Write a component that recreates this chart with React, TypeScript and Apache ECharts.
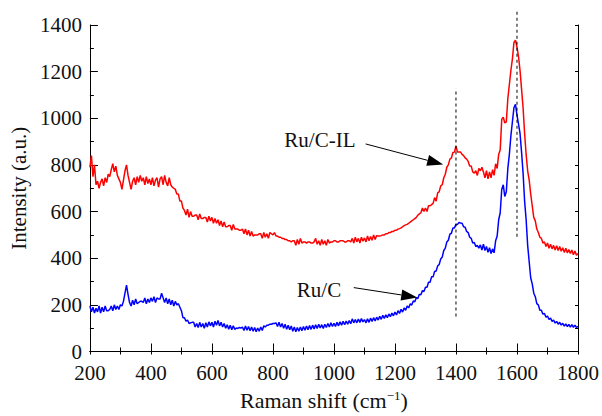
import React, { useEffect, useRef } from "react";
import * as echarts from "echarts";

// Raman shift grid: 200 .. 1800 cm-1, step 5
const SHIFT_START = 200;
const SHIFT_STEP = 5;

// Ru/C-IL intensity (a.u.)
const ruCIL = [
  790,840,750,800,715,730,700,725,740,710,745,725,760,750,780,805,770,795,755,740,
  725,695,735,775,800,755,725,695,730,745,715,750,725,755,730,745,715,750,720,740,
  715,745,710,735,745,705,740,750,715,755,725,710,745,715,705,700,695,675,675,645,
  645,615,605,585,610,575,600,580,580,585,585,565,590,570,570,575,575,555,580,560,
  575,550,570,550,565,540,560,535,555,535,535,540,540,520,545,525,525,525,520,520,
  525,505,525,500,520,495,515,495,500,500,500,505,505,485,510,490,505,485,510,505,
  500,510,495,495,490,490,485,485,480,480,475,475,470,475,475,455,480,460,485,465,
  470,470,465,470,470,465,465,470,485,460,475,455,480,460,475,455,480,465,470,470,
  475,475,470,470,475,475,475,470,470,475,475,470,485,465,490,470,485,465,490,473,
  487,470,495,475,493,477,500,480,497,495,495,497,500,500,505,505,510,510,515,515,
  520,520,525,527,530,535,540,543,545,550,555,560,565,570,575,585,590,595,615,600,
  615,600,625,625,630,635,660,645,680,685,710,715,745,760,790,800,825,830,853,855,
  880,855,855,855,845,840,830,825,815,795,795,770,765,775,755,785,775,790,770,745,
  775,740,770,745,780,755,805,785,845,865,995,1005,980,985,1085,1145,1205,1255,1325,1335,
  1305,1265,1205,1125,1045,935,845,775,735,675,625,575,560,525,510,490,485,465,470,450,
  465,443,460,440,455,435,453,433,450,430,445,425,443,423,437,420,435,415,431,413,420,
];

// Ru/C intensity (a.u.)
const ruC = [
  195,170,190,165,185,170,195,165,190,170,195,175,175,180,195,175,200,180,195,180,
  200,195,215,250,285,245,210,195,220,200,225,205,210,215,215,210,230,205,225,210,
  230,215,235,210,230,225,225,250,230,210,230,205,225,200,220,195,215,200,205,190,
  175,145,145,130,135,120,123,125,125,105,120,103,125,105,120,100,123,105,127,110,
  125,105,130,113,133,110,125,105,120,100,115,95,113,93,110,95,101,99,103,100,
  105,90,109,91,107,89,105,87,103,85,101,87,105,90,110,105,113,113,117,117,
  120,120,123,107,125,105,120,100,117,95,113,93,109,87,105,85,103,87,105,89,
  107,91,109,93,111,95,113,97,115,99,117,101,115,99,117,103,120,105,123,107,
  121,107,125,110,127,113,130,115,131,117,133,119,140,123,137,123,139,125,141,127,
  137,123,140,125,143,129,145,131,147,135,151,138,155,142,157,145,161,149,165,153,
  169,157,175,163,181,169,187,177,195,187,205,199,217,213,231,227,245,243,261,257,
  275,275,297,297,320,320,343,345,367,373,397,405,433,443,470,477,503,507,530,530,
  545,545,553,551,550,535,533,515,510,490,485,465,467,450,455,443,457,435,460,433,
  450,425,445,420,440,423,475,495,565,595,695,715,665,685,785,845,925,985,1045,1060,
  1015,975,935,855,765,645,565,455,385,315,290,250,235,205,200,177,177,160,163,147,
  152,137,143,129,135,122,129,117,125,113,121,109,118,107,116,105,115,104,113,103,108,
];

// Dashed reference lines: [shift, from intensity, to intensity]
const refLines = [
  [1400, 150, 1128],
  [1600, 492, 1465],
];

// Annotation labels and arrows (data coordinates)
const annLabels = [
  { text: "Ru/C-IL", at: [954, 907], from: [1104, 890], to: [1358, 802] },
  { text: "Ru/C", at: [951, 262], from: [1065, 274], to: [1273, 232] },
];

const FONT = "Liberation Serif";

function toPairs(vals: number[]) {
  return vals.map((v, i) => [SHIFT_START + i * SHIFT_STEP, v]);
}

export default function App() {
  const ref = useRef<HTMLDivElement>(null);
  useEffect(() => {
    if (!ref.current) return;
    const chart = echarts.init(ref.current, undefined, { renderer: "svg" });
    const axisCommon = {
      type: "value" as const,
      axisLine: { show: true, lineStyle: { color: "#000", width: 1 } },
      splitLine: { show: false },
    };
    const labelStyle = {
      color: "#111",
      fontFamily: FONT,
      fontSize: 21,
      formatter: (v: number) => String(v),
    };

    chart.setOption({
      animation: false,
      backgroundColor: "#fff",
      textStyle: { fontFamily: FONT },
      grid: { left: 87, right: 23, top: 25, bottom: 59, containLabel: false },
      xAxis: [
        {
          ...axisCommon,
          position: "bottom",
          min: 200,
          max: 1800,
          interval: 200,
          axisTick: { show: true, inside: true, length: 8, lineStyle: { color: "#000" } },
          minorTick: { show: true, splitNumber: 2, length: 4, lineStyle: { color: "#000" } },
          axisLabel: { ...labelStyle, margin: 11 },
          name: "{a|Raman shift (cm}{s|−1}{a|)}",
          nameLocation: "middle",
          nameGap: 37,
          nameTextStyle: {
            fontFamily: FONT,
            padding: [0, 20, 0, 0],
            rich: {
              a: { fontFamily: FONT, fontSize: 22, color: "#111" },
              s: { fontFamily: FONT, fontSize: 13, color: "#111", padding: [0, 0, 10, 0] },
            },
          },
        },
        {
          ...axisCommon,
          position: "top",
          min: 200,
          max: 1800,
          interval: 100,
          axisTick: { show: true, inside: true, length: 3, lineStyle: { color: "#000" } },
          axisLabel: { show: false },
        },
      ],
      yAxis: [
        {
          ...axisCommon,
          position: "left",
          min: 0,
          max: 1400,
          interval: 200,
          axisTick: { show: true, inside: true, length: 8, lineStyle: { color: "#000" } },
          minorTick: { show: true, splitNumber: 2, length: 4, lineStyle: { color: "#000" } },
          axisLabel: { ...labelStyle, margin: 8 },
          name: "Intensity (a.u.)",
          nameLocation: "middle",
          nameGap: 56,
          nameTextStyle: { fontFamily: FONT, fontSize: 21, color: "#111" },
        },
        {
          ...axisCommon,
          position: "right",
          min: 0,
          max: 1400,
          interval: 100,
          axisTick: { show: true, inside: true, length: 3, lineStyle: { color: "#000" } },
          axisLabel: { show: false },
        },
      ],
      series: [
        {
          name: "Ru/C-IL",
          type: "line",
          data: toPairs(ruCIL),
          showSymbol: false,
          lineStyle: { color: "#ff0000", width: 1.5 },
          itemStyle: { color: "#ff0000" },
          z: 3,
        },
        {
          name: "Ru/C",
          type: "line",
          data: toPairs(ruC),
          showSymbol: false,
          lineStyle: { color: "#0000ff", width: 1.5 },
          itemStyle: { color: "#0000ff" },
          z: 4,
        },
      ],
    });

    const px = (p: number[]) => chart.convertToPixel({ gridIndex: 0 }, p) as number[];
    const graphics: any[] = [];
    refLines.forEach(([x, y0, y1]) => {
      const a = px([x, y0]);
      const b = px([x, y1]);
      graphics.push({
        type: "line",
        shape: { x1: a[0], y1: a[1], x2: b[0], y2: b[1] },
        style: { stroke: "#000", lineWidth: 1, lineDash: [3, 3] },
        z: 10,
      });
    });
    annLabels.forEach((l) => {
      const c = px(l.at);
      graphics.push({
        type: "text",
        x: c[0],
        y: c[1],
        style: {
          text: l.text,
          fontFamily: FONT,
          fontSize: 21,
          fill: "#111",
          align: "center",
          verticalAlign: "middle",
        },
        z: 10,
      });
      const a = px(l.from);
      const b = px(l.to);
      const dx = b[0] - a[0];
      const dy = b[1] - a[1];
      const len = Math.sqrt(dx * dx + dy * dy);
      const ux = dx / len;
      const uy = dy / len;
      const hl = 16;
      const hw = 5.5;
      const bx = b[0] - ux * hl;
      const by = b[1] - uy * hl;
      graphics.push({
        type: "line",
        shape: { x1: a[0], y1: a[1], x2: bx, y2: by },
        style: { stroke: "#000", lineWidth: 1 },
        z: 10,
      });
      graphics.push({
        type: "polygon",
        shape: {
          points: [
            [b[0], b[1]],
            [bx - uy * hw, by + ux * hw],
            [bx + uy * hw, by - ux * hw],
          ],
        },
        style: { fill: "#000" },
        z: 10,
      });
    });
    chart.setOption({ graphic: graphics });

    return () => chart.dispose();
  }, []);
  return (
    <div
      ref={ref}
      style={{ position: "fixed", left: 0, top: 0, width: 602, height: 416 }}
    />
  );
}
